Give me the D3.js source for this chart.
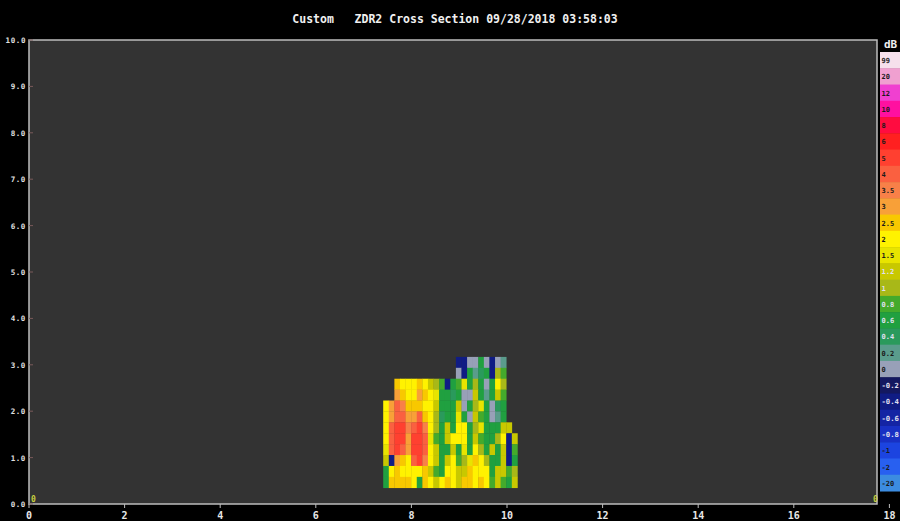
<!DOCTYPE html>
<html>
<head>
<meta charset="utf-8">
<script src="https://cdn.jsdelivr.net/npm/d3@7"></script>
<style>
  html, body { margin: 0; padding: 0; background: #000; overflow: hidden; }
  svg { display: block; }
</style>
</head>
<body>
<svg id="chart" width="900" height="521"></svg>
<script>
// ZDR cross section: distance along the section (x) vs height in km (y)
const titleText = "Custom   ZDR2 Cross Section 09/28/2018 03:58:03";
const unitLabel = "dB";

const xTicks = [0, 2, 4, 6, 8, 10, 12, 14, 16, 18];
const yTicks = [0, 1, 2, 3, 4, 5, 6, 7, 8, 9, 10];

// Legend bins, lowest first (label = lower bound of the bin)
const legendLabels = ["-20", "-2", "-1", "-0.8", "-0.6", "-0.4", "-0.2", "0", "0.2", "0.4",
  "0.6", "0.8", "1", "1.2", "1.5", "2", "2.5", "3", "3.5", "4", "5", "6", "8", "10", "12", "20", "99"];
const legendThresholds = [-2, -1, -0.8, -0.6, -0.4, -0.2, 0, 0.2, 0.4, 0.6, 0.8, 1, 1.2, 1.5,
  2, 2.5, 3, 3.5, 4, 5, 6, 8, 10, 12, 20, 99];
const legendColors = ["#3c8ce0", "#2860f0", "#1c44e0", "#1830c4", "#1424a4", "#101c84", "#141860",
  "#98a0b8", "#5a9c8c", "#2a9a5c", "#20a040", "#44aa2c", "#a8b818", "#c8c800", "#e8e400",
  "#fff200", "#f8c800", "#f8a038", "#f88048", "#fa6040", "#ff4030", "#ff2020", "#ff0c40",
  "#ff10a0", "#f040d0", "#f0a0d0", "#f6e0ec"];

// Sample grid: first gate distance, gate spacing, lowest height, height step
const gateStart = 7.41;
const gateStep = 0.117;
const heightStart = 0.35;
const heightStep = 0.235;

// ZDR (dB) per row, top row first; null = no echo
const N = null;
const zdrRows = [
  [N, N, N, N, N, N, N, N, N, N, N, N, N, -0.3, -0.3, 0.1, 0.0, 0.7, 0.0, -0.3, 0.0, 0.3, N, N],
  [N, N, N, N, N, N, N, N, N, N, N, N, N, 0.1, -0.3, 0.7, 0.3, 0.5, 0.7, -0.3, 1.1, 0.9, N, N],
  [N, N, 2.6, 2.3, 2.1, 2.2, 2.6, 2.4, 1.3, 1.1, 0.9, -0.3, 0.7, 0.8, 1.6, 0.6, 1.1, 0.7, 0.1, 0.7, 2.1, 1.0, N, N],
  [N, N, 3.2, 2.8, 2.1, 2.2, 3.0, 2.7, 2.1, 1.7, 0.7, 0.6, 0.5, 0.6, 0.1, 0.0, 1.2, 0.6, 0.2, 0.7, 1.3, 0.9, N, N],
  [2.2, 3.0, 4.2, 3.6, 2.9, 2.6, 2.8, 2.2, 2.1, 1.3, 0.6, 0.7, 0.6, 1.3, 0.1, 0.6, 1.1, 1.7, 0.6, 0.0, 0.5, 0.7, N, N],
  [2.1, 3.2, 4.5, 4.8, 3.4, 3.1, 4.2, 2.6, 2.2, 1.1, 0.5, 0.7, 0.6, 1.6, 0.6, 0.0, 1.2, 0.9, 0.6, 0.1, 0.2, 0.6, N, N],
  [2.0, 4.2, 5.2, 5.5, 3.6, 4.6, 5.1, 3.8, 2.1, 1.1, 0.7, 1.3, 0.6, 2.1, 2.2, 0.6, 1.1, 1.7, 0.6, 0.7, 0.6, 1.2, 1.3, N],
  [2.1, 4.6, 5.5, 5.3, 3.3, 5.2, 5.6, 4.1, 1.6, 0.8, 0.6, 1.2, 2.3, 2.2, 2.0, 0.6, 1.2, 0.9, 0.7, 0.6, 1.1, 2.1, -0.3, 1.2],
  [1.9, 4.0, 5.1, 4.9, 3.1, 5.4, 5.2, 4.6, 2.2, 1.2, 0.7, 0.6, 1.2, 0.6, 1.7, 0.7, 2.3, 1.1, 0.6, 1.2, 0.7, 1.3, -0.4, 0.9],
  [1.3, -0.3, 3.2, 2.8, 2.4, 4.8, 5.3, 3.5, 2.1, 1.2, 0.6, 1.3, 2.1, 0.9, 1.1, 1.8, 2.6, 2.1, 1.1, 0.7, 0.6, 1.2, -0.4, 0.7],
  [0.7, 2.2, 2.6, 2.3, 2.1, 2.4, 2.2, 2.7, 1.3, 0.9, 0.6, 2.1, 2.4, 1.2, 1.2, 2.6, 2.3, 2.2, 2.1, 0.6, 1.2, 1.3, 0.9, 1.1],
  [0.6, 2.7, 2.6, 2.8, 2.5, 2.3, 0.6, 2.6, 2.2, 1.2, 2.3, 2.7, 2.2, 1.3, 2.6, 2.7, 2.1, 2.5, 2.1, 0.9, 1.3, 0.9, 0.7, 1.3]
];

const svg = d3.select("#chart");
const W = 900, H = 521;
const plot = { left: 29, top: 40, right: 877, bottom: 504 };

const x = d3.scaleLinear().domain([0, 18]).range([plot.left, plot.left + 18 * 47.8]);
const y = d3.scaleLinear().domain([0, 10]).range([plot.bottom, plot.top]);
const color = d3.scaleThreshold().domain(legendThresholds).range(legendColors);

svg.append("rect").attr("width", W).attr("height", H).attr("fill", "#000");

// plot background
svg.append("rect")
  .attr("x", plot.left).attr("y", plot.top)
  .attr("width", plot.right - plot.left).attr("height", plot.bottom - plot.top)
  .attr("fill", "#333333");

svg.append("clipPath").attr("id", "plotClip")
  .append("rect")
  .attr("x", plot.left).attr("y", plot.top)
  .attr("width", plot.right - plot.left).attr("height", plot.bottom - plot.top);

// flatten the grid into cells
const cells = [];
const nRows = zdrRows.length;
zdrRows.forEach((row, ri) => {
  const level = nRows - 1 - ri;
  row.forEach((v, ci) => {
    if (v === null) return;
    cells.push({
      x0: gateStart + ci * gateStep,
      x1: gateStart + (ci + 1) * gateStep,
      h0: heightStart + level * heightStep,
      h1: heightStart + (level + 1) * heightStep,
      v
    });
  });
});

const g = svg.append("g").attr("clip-path", "url(#plotClip)");
g.selectAll("rect.cell").data(cells).join("rect")
  .attr("class", "cell")
  .attr("x", d => x(d.x0))
  .attr("y", d => y(d.h1))
  .attr("width", d => x(d.x1) - x(d.x0) + 0.3)
  .attr("height", d => y(d.h0) - y(d.h1) + 0.3)
  .attr("fill", d => color(d.v));

// frame
svg.append("rect")
  .attr("x", plot.left).attr("y", plot.top)
  .attr("width", plot.right - plot.left).attr("height", plot.bottom - plot.top)
  .attr("fill", "none").attr("stroke", "#bdbdbd").attr("stroke-width", 1.5);

// y axis
const yAxis = svg.append("g");
yAxis.selectAll("line").data(yTicks).join("line")
  .attr("x1", plot.left).attr("x2", plot.left + 4)
  .attr("y1", d => y(d)).attr("y2", d => y(d))
  .attr("stroke", "#7a5a5a").attr("stroke-width", 1);
yAxis.selectAll("text").data(yTicks).join("text")
  .attr("x", 26).attr("y", d => y(d) + 3)
  .attr("text-anchor", "end")
  .attr("font-family", "DejaVu Sans Mono, monospace")
  .attr("font-size", 7.5).attr("font-weight", "bold")
  .attr("letter-spacing", 0.6)
  .attr("fill", "#e0e0e0")
  .text(d => d3.format(".1f")(d));

// x axis
const xAxis = svg.append("g");
xAxis.selectAll("line").data(xTicks).join("line")
  .attr("x1", d => x(d)).attr("x2", d => x(d))
  .attr("y1", plot.bottom).attr("y2", plot.bottom + 4)
  .attr("stroke", "#bdbdbd").attr("stroke-width", 1);
xAxis.selectAll("text").data(xTicks).join("text")
  .attr("x", d => x(d)).attr("y", 519)
  .attr("text-anchor", "middle")
  .attr("font-family", "DejaVu Sans Mono, monospace")
  .attr("font-size", 10).attr("font-weight", "bold")
  .attr("fill", "#e8e8e8")
  .text(d => d);

// endpoint markers
svg.append("text").attr("x", 31).attr("y", 502)
  .attr("font-family", "DejaVu Sans Mono, monospace").attr("font-size", 8).attr("font-weight", "bold")
  .attr("fill", "#c8d040").text("0");
svg.append("text").attr("x", 873).attr("y", 502)
  .attr("font-family", "DejaVu Sans Mono, monospace").attr("font-size", 8).attr("font-weight", "bold")
  .attr("fill", "#c8d040").text("0");

// title
svg.append("text")
  .attr("x", 455).attr("y", 23)
  .attr("text-anchor", "middle")
  .attr("font-family", "DejaVu Sans Mono, monospace")
  .attr("font-size", 11.5).attr("font-weight", "bold")
  .attr("fill", "#f0f0f0")
  .attr("xml:space", "preserve")
  .style("white-space", "pre")
  .text(titleText);

// legend (highest bin at the top)
const legendTop = 52, legendRow = 16.26, legendX = 880;
const legendData = legendLabels.map((l, i) => ({ label: l, color: legendColors[i] })).reverse();
const lg = svg.append("g");
lg.append("text").attr("x", legendX + 4).attr("y", 48)
  .attr("font-family", "DejaVu Sans Mono, monospace").attr("font-size", 11).attr("font-weight", "bold")
  .attr("fill", "#f0f0f0").text(unitLabel);
lg.selectAll("rect").data(legendData).join("rect")
  .attr("x", legendX).attr("y", (d, i) => legendTop + i * legendRow)
  .attr("width", 24).attr("height", legendRow + 0.5)
  .attr("fill", d => d.color);
lg.selectAll("text.lab").data(legendData).join("text")
  .attr("class", "lab")
  .attr("x", legendX + 1.5).attr("y", (d, i) => legendTop + i * legendRow + 11)
  .attr("font-family", "DejaVu Sans Mono, monospace").attr("font-size", 7).attr("font-weight", "bold")
  .attr("textLength", d => d.label.length > 3 ? 17.5 : null)
  .attr("lengthAdjust", "spacingAndGlyphs")
  .attr("fill", d => d3.hsl(d.color).l > 0.45 ? "#1a1a1a" : "#e0e0f0")
  .text(d => d.label);
</script>
</body>
</html>
